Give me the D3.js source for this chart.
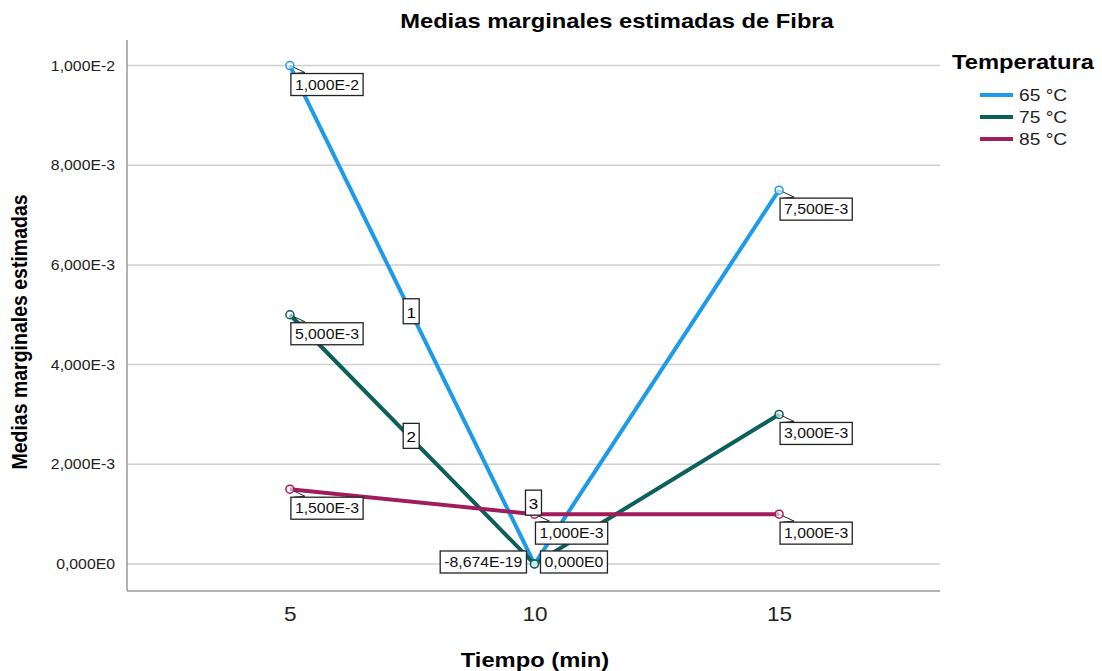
<!DOCTYPE html>
<html><head><meta charset="utf-8">
<script src="https://cdn.jsdelivr.net/npm/d3@7"></script>
<style>body{margin:0;background:#fff;} svg text{font-family:Arial,"Liberation Sans",sans-serif;}</style>
</head><body><svg id="c" width="1102" height="671"></svg>
<script>
const xValues = [5, 10, 15];
const seriesNames = ["65 °C", "75 °C", "85 °C"];
const series65 = [1.0e-2, -8.674e-19, 7.5e-3];
const series75 = [5.0e-3, 0.0, 3.0e-3];
const series85 = [1.5e-3, 1.0e-3, 1.0e-3];
const yTicks = [0, 0.002, 0.004, 0.006, 0.008, 0.01];
const yTickLabels = ["0,000E0", "2,000E-3", "4,000E-3", "6,000E-3", "8,000E-3", "1,000E-2"];
const pointLabels65 = ["1,000E-2", "-8,674E-19", "7,500E-3"];
const pointLabels75 = ["5,000E-3", "0,000E0", "3,000E-3"];
const pointLabels85 = ["1,500E-3", "1,000E-3", "1,000E-3"];
const lineIds = ["1", "2", "3"];
const colors = ["#1e9be8", "#0c5f5b", "#a01d5c"];

const SX = 1.13;
const svg = d3.select("#c");
const L = 127, R = 940, T = 40, B = 591;
const x = d3.scaleLinear().domain([1.67, 18.29]).range([L, R]);
const y = d3.scaleLinear().domain([-0.000542, 0.010512]).range([B, T]);

function stretch(sel) {
  sel.each(function() {
    const el = d3.select(this);
    const tx = +el.attr("x") || 0;
    el.attr("transform", `translate(${tx * (1 - SX)},0) scale(${SX},1)`);
  });
}

// gridlines
svg.append("g").selectAll("line").data(yTicks).join("line")
  .attr("x1", L).attr("x2", R).attr("y1", d => y(d)).attr("y2", d => y(d))
  .attr("stroke", "#cfcfcf").attr("stroke-width", 1.5);

// axes
const ya = svg.append("g").attr("transform", `translate(${L},0)`)
  .call(d3.axisLeft(y).tickValues(yTicks).tickFormat((d,i) => yTickLabels[i]).tickSize(0).tickPadding(12));
ya.select(".domain").remove();
ya.selectAll("text").attr("font-size", 14).attr("fill", "#222").attr("font-family", null);
stretch(ya.selectAll("text"));
svg.append("line").attr("x1", L).attr("x2", L).attr("y1", T).attr("y2", B).attr("stroke", "#9a9a9a").attr("stroke-width", 1.5);
svg.append("line").attr("x1", L).attr("x2", R).attr("y1", B).attr("y2", B).attr("stroke", "#9a9a9a").attr("stroke-width", 1.5);

const xa = svg.append("g").attr("transform", `translate(0,${B})`)
  .call(d3.axisBottom(x).tickValues(xValues).tickFormat(d3.format("d")).tickSize(0).tickPadding(16));
xa.select(".domain").remove();
xa.selectAll("text").attr("font-size", 20).attr("fill", "#222").attr("font-family", null);
stretch(xa.selectAll("text"));

// titles
stretch(svg.append("text").attr("x", 617).attr("y", 28).attr("text-anchor", "middle")
  .attr("font-size", 21).attr("font-weight", "bold").text("Medias marginales estimadas de Fibra"));
stretch(svg.append("text").attr("x", 535).attr("y", 667).attr("text-anchor", "middle")
  .attr("font-size", 21).attr("font-weight", "bold").text("Tiempo (min)"));
svg.append("text").attr("transform", `translate(27,332) scale(${SX},1) rotate(-90)`).attr("text-anchor", "middle")
  .attr("font-size", 19.5).attr("font-weight", "bold").text("Medias marginales estimadas");

const all = [series65, series75, series85];
const allLabels = [pointLabels65, pointLabels75, pointLabels85];
const line = d3.line().x((d,i) => x(xValues[i])).y(d => y(d));

all.forEach((s, k) => {
  svg.append("path").attr("d", line(s)).attr("fill", "none").attr("stroke", colors[k]).attr("stroke-width", 4);
});

function box(cx, cy, txt, anchor) {
  const g = svg.append("g");
  const t = g.append("text").attr("font-size", 14).attr("fill", "#111").text(txt);
  const tw = t.node().getComputedTextLength() * SX;
  const w = tw + 8, h = 22;
  let bx = anchor === "right" ? cx - w : cx;
  g.insert("rect", "text").attr("x", bx).attr("y", cy).attr("width", w).attr("height", h)
    .attr("fill", "#fff").attr("stroke", "#222").attr("stroke-width", 1.3);
  t.attr("x", bx + 4).attr("y", cy + 16);
  stretch(t);
  return g;
}

all.forEach((s, k) => {
  s.forEach((v, i) => {
    const px = x(xValues[i]), py = y(v);
    if (k === 0 && i === 1) {
      box(px - 8, py - 13, allLabels[k][i], "right");
    } else if (k === 1 && i === 1) {
      box(px + 6, py - 13, allLabels[k][i], "left");
    } else {
      svg.append("path").attr("d", `M${px},${py} L${px+15},${py+7} L${px+4},${py+8}`)
        .attr("fill", "none").attr("stroke", "#222").attr("stroke-width", 1);
      box(px + 1, py + 8, allLabels[k][i], "left");
    }
  });
});

all.forEach((s, k) => {
  svg.append("g").selectAll("circle").data(s).join("circle")
    .attr("cx", (d,i) => x(xValues[i])).attr("cy", d => y(d)).attr("r", 4)
    .attr("fill", "#fff").attr("fill-opacity", 0.6).attr("stroke", colors[k]).attr("stroke-width", 1.5);
});

// line id labels
const idPos = [[series65, 7.5], [series75, 7.5], [series85, 10]];
function interp(s, t) {
  const i = t <= 10 ? 0 : 1;
  const f = (t - xValues[i]) / (xValues[i+1] - xValues[i]);
  return s[i] + f * (s[i+1] - s[i]);
}
idPos.forEach(([s, t], k) => {
  const px = x(t) - 1;
  const py = k === 2 ? y(interp(s, t)) - 12 : y(interp(s, t)) - 4;
  const g = svg.append("g");
  g.append("rect").attr("x", px - 8).attr("y", py - 12).attr("width", 16).attr("height", 25)
    .attr("fill", "#fff").attr("stroke", "#222").attr("stroke-width", 1.3);
  stretch(g.append("text").attr("x", px).attr("y", py + 7).attr("text-anchor", "middle").attr("font-size", 15).text(lineIds[k]));
});

// legend
stretch(svg.append("text").attr("x", 952).attr("y", 69).attr("font-size", 21).attr("font-weight", "bold").text("Temperatura"));
seriesNames.forEach((n, k) => {
  const ly = 95 + k * 22;
  svg.append("line").attr("x1", 980).attr("x2", 1013).attr("y1", ly).attr("y2", ly).attr("stroke", colors[k]).attr("stroke-width", 4);
  stretch(svg.append("text").attr("x", 1019).attr("y", ly + 6).attr("font-size", 17).attr("fill", "#222").text(n));
});
</script></body></html>
